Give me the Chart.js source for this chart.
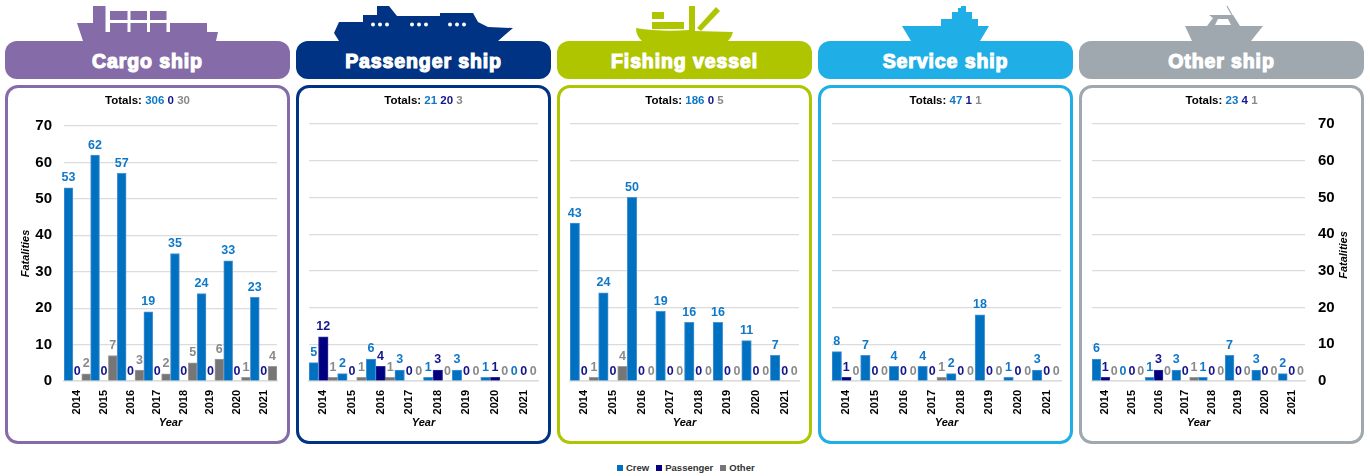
<!DOCTYPE html>
<html>
<head>
<meta charset="utf-8">
<title>Fatalities by ship type</title>
<script src="https://cdn.jsdelivr.net/npm/chart.js@4/dist/chart.umd.min.js"></script>
<style>
html, body { margin: 0; padding: 0; background: #fff; }
body { width: 1370px; height: 476px; position: relative; overflow: hidden; font-family: "Liberation Sans", Arial, sans-serif; }
.head { position: absolute; top: 41px; height: 38px; border-radius: 12px; color: #fff; text-align: center; line-height: 40px; font-size: 19.5px; font-weight: bold; -webkit-text-stroke: 1.2px #fff; letter-spacing: 0.9px; }
.card { position: absolute; top: 85px; height: 353px; border: 3px solid; border-radius: 13px; background: #fff; }
.card canvas { position: absolute; left: 0; top: 0; }
.totals { position: absolute; top: 6px; left: 0; right: 0; text-align: center; font-size: 11.5px; font-weight: bold; line-height: 13px; color: #000; z-index: 2; }
#ships { position: absolute; left: 0; top: 0; }
#legend { position: absolute; left: 617px; top: 462px; font-size: 9.5px; font-weight: bold; line-height: 12px; color: #333; white-space: nowrap; }
#legend i { display: inline-block; width: 6px; height: 6px; margin-right: 3px; }
#legend span { margin-right: 7px; }
</style>
</head>
<body>
<svg id="ships" width="1370" height="45">
  <g fill="#856CA8">
    <path d="M77,23 H93 V6 H105.5 V32 H110 V23 H127.5 V32 H130.5 V23 H147 V32 H150 V23 H166.5 V32 H170 V23 H207 V32 H218 L216,41 H83 Z"/>
    <rect x="110" y="11" width="17.5" height="9"/><rect x="130.5" y="11" width="16.5" height="9"/><rect x="150" y="11" width="16.5" height="9"/>
  </g>
  <g fill="#003383">
    <path d="M334,33 L339,22 H363 V15 H377 V6 H389 L397,16 H440 V13 H473 L478,22 L488,27 L513,28 L498,41 H339 Z"/>
    <g fill="#fff">
      <circle cx="373" cy="24.5" r="2"/><circle cx="380" cy="24.5" r="2"/><circle cx="387" cy="24.5" r="2"/>
      <circle cx="412" cy="24.5" r="2"/><circle cx="419" cy="24.5" r="2"/><circle cx="426" cy="24.5" r="2"/>
      <circle cx="450" cy="24.5" r="2"/><circle cx="457" cy="24.5" r="2"/><circle cx="464" cy="24.5" r="2"/>
    </g>
  </g>
  <g fill="#AFC500">
    <path d="M636,28 Q660,32 689,30 V6 H695 V31 L733,32 Q732,37 728,41 H642 Q636,36 636,28 Z"/>
    <rect x="652" y="12" width="12" height="7"/><rect x="652" y="22" width="32" height="7"/>
    <path d="M697,28 L716,7 L720,11 L701,31 Z"/>
  </g>
  <g fill="#20AEE6">
    <path d="M902,26 H941 V19 H952 V12 H958 V8 H961 V6 H966 V12 H972 V19 H978 V26 H989 L980,41 H911 Z"/>
  </g>
  <g fill="#9FA8AE">
    <path d="M1185,26 H1207 L1213,18 L1209,15 H1233 L1240,26 H1263 L1251,41 H1192 Z"/>
    <path d="M1218,19 L1215,25 H1231 L1228,19 Z" fill="#fff"/>
    <path d="M1227,6 L1238,26" stroke="#9FA8AE" stroke-width="1.2" fill="none"/>
  </g>
</svg>
<div id="root"></div>
<div id="legend"></div>

<script>
var years = ["2014", "2015", "2016", "2017", "2018", "2019", "2020", "2021"];

var cargoCrew = [53, 62, 57, 19, 35, 24, 33, 23];
var cargoPassenger = [0, 0, 0, 0, 0, 0, 0, 0];
var cargoOther = [2, 7, 3, 2, 5, 6, 1, 4];

var passengerCrew = [5, 2, 6, 3, 1, 3, 1, 0];
var passengerPassenger = [12, 0, 4, 0, 3, 0, 1, 0];
var passengerOther = [1, 1, 1, 0, 0, 0, 0, 0];

var fishingCrew = [43, 24, 50, 19, 16, 16, 11, 7];
var fishingPassenger = [0, 0, 0, 0, 0, 0, 0, 0];
var fishingOther = [1, 4, 0, 0, 0, 0, 0, 0];

var serviceCrew = [8, 7, 4, 4, 2, 18, 1, 3];
var servicePassenger = [1, 0, 0, 0, 0, 0, 0, 0];
var serviceOther = [0, 0, 0, 1, 0, 0, 0, 0];

var otherCrew = [6, 0, 1, 3, 1, 7, 3, 2];
var otherPassenger = [1, 0, 3, 0, 0, 0, 0, 0];
var otherOther = [0, 0, 0, 1, 0, 0, 0, 0];

var seriesNames = ["Crew", "Passenger", "Other"];
var barColors = ["#0070C0", "#000080", "#767676"];
var barEdges = ["#4A93D4", "#2E2E96", "#9C9C9C"];
var labelColors = ["#0F78C8", "#14148C", "#8A8A8A"];
var yTicksMax = 70;

var FONT = '"Liberation Sans", Arial, sans-serif';

// plot box given in page pixels, card box too
var panels = [
    { name: "Cargo ship", color: "#856CA8", x: 5, w: 285, left: 64, right: 277, top: 126, axis: "left", crew: cargoCrew, passenger: cargoPassenger, other: cargoOther },
    { name: "Passenger ship", color: "#003383", x: 296, w: 255, left: 309, right: 538, top: 124, axis: "none", crew: passengerCrew, passenger: passengerPassenger, other: passengerOther },
    { name: "Fishing vessel", color: "#AFC500", x: 557, w: 255, left: 570, right: 799, top: 124, axis: "none", crew: fishingCrew, passenger: fishingPassenger, other: fishingOther },
    { name: "Service ship", color: "#20AEE6", x: 818, w: 255, left: 832, right: 1061, top: 124, axis: "none", crew: serviceCrew, passenger: servicePassenger, other: serviceOther },
    { name: "Other ship", color: "#9FA8AE", x: 1079, w: 285, left: 1092, right: 1305, top: 124, axis: "right", crew: otherCrew, passenger: otherPassenger, other: otherOther }
];
var plotBottom = 381;
var cardTop = 88, cardBottom = 441;

function sum(list) {
    return list.reduce(function (a, b) { return a + b; }, 0);
}

// numbers above the bars
var valueLabels = {
    id: "valueLabels",
    afterDatasetsDraw: function (chart) {
        var ctx = chart.ctx;
        ctx.save();
        ctx.font = "bold 12.5px " + FONT;
        ctx.textAlign = "center";
        ctx.textBaseline = "alphabetic";
        chart.data.datasets.forEach(function (ds, i) {
            ctx.fillStyle = labelColors[i];
            chart.getDatasetMeta(i).data.forEach(function (bar, j) {
                ctx.fillText(ds.data[j], bar.x, bar.y - 6.5);
            });
        });
        ctx.restore();
    }
};

// chart.js turns a right hand title downwards, this one reads upwards
var rightTitle = {
    id: "rightTitle",
    afterDraw: function (chart) {
        if (chart.options.scales.y.position !== "right") return;
        var ctx = chart.ctx;
        ctx.save();
        ctx.translate(chart.width - 17, 255 - cardTop);
        ctx.rotate(-Math.PI / 2);
        ctx.font = "italic bold 11px " + FONT;
        ctx.fillStyle = "#000";
        ctx.textAlign = "center";
        ctx.textBaseline = "middle";
        ctx.fillText("Fatalities", 0, 0);
        ctx.restore();
    }
};

var root = document.getElementById("root");

panels.forEach(function (p) {
    var head = document.createElement("div");
    head.className = "head";
    head.style.left = p.x + "px";
    head.style.width = p.w + "px";
    head.style.background = p.color;
    head.textContent = p.name;
    root.appendChild(head);

    var card = document.createElement("div");
    card.className = "card";
    card.style.left = p.x + "px";
    card.style.width = (p.w - 6) + "px";
    card.style.borderColor = p.color;

    var totals = document.createElement("div");
    totals.className = "totals";
    totals.innerHTML = 'Totals: <span style="color:' + labelColors[0] + '">' + sum(p.crew) + '</span> ' +
        '<span style="color:' + labelColors[1] + '">' + sum(p.passenger) + '</span> ' +
        '<span style="color:' + labelColors[2] + '">' + sum(p.other) + '</span>';
    card.appendChild(totals);

    var canvas = document.createElement("canvas");
    var canvasW = p.w - 6, canvasH = cardBottom - cardTop;
    canvas.width = canvasW;
    canvas.height = canvasH;
    canvas.style.width = canvasW + "px";
    canvas.style.height = canvasH + "px";
    card.appendChild(canvas);
    root.appendChild(card);

    var canvasLeft = p.x + 3;
    var leftGap = p.left - canvasLeft;
    var rightGap = canvasLeft + canvasW - p.right;

    new Chart(canvas.getContext("2d"), {
        type: "bar",
        data: {
            labels: years,
            datasets: [
                { label: seriesNames[0], data: p.crew, backgroundColor: barColors[0], borderColor: barEdges[0] },
                { label: seriesNames[1], data: p.passenger, backgroundColor: barColors[1], borderColor: barEdges[1] },
                { label: seriesNames[2], data: p.other, backgroundColor: barColors[2], borderColor: barEdges[2] }
            ]
        },
        options: {
            responsive: false,
            animation: false,
            layout: {
                padding: {
                    top: p.top - cardTop,
                    left: p.axis === "right" ? leftGap : 0,
                    right: p.axis === "right" ? 0 : rightGap,
                    bottom: 0
                }
            },
            plugins: { legend: { display: false }, tooltip: { enabled: false } },
            datasets: { bar: { barPercentage: 1, categoryPercentage: 1, borderWidth: 1, borderSkipped: "bottom" } },
            scales: {
                x: {
                    grid: { display: false },
                    border: { color: "#DCDCDC", width: 1.5 },
                    ticks: {
                        minRotation: 90, maxRotation: 90, autoSkip: false, padding: 1,
                        color: "#000", font: { family: FONT, size: 11, weight: "bold" }
                    },
                    title: {
                        display: true, text: "Year", color: "#000",
                        font: { family: FONT, size: 11, weight: "bold", style: "italic" },
                        padding: { top: 0, bottom: 11 }
                    },
                    afterFit: function (scale) { scale.height = cardBottom - plotBottom; }
                },
                y: {
                    position: p.axis === "right" ? "right" : "left",
                    min: 0,
                    max: yTicksMax,
                    grid: { color: "#DCDCDC", lineWidth: 1.25, drawTicks: false },
                    border: { display: false },
                    ticks: {
                        display: p.axis !== "none", stepSize: 10, padding: p.axis === "right" ? 13 : 12,
                        color: "#000", font: { family: FONT, size: 15, weight: "bold" }
                    },
                    title: {
                        display: p.axis === "left", text: "Fatalities", color: "#000",
                        font: { family: FONT, size: 11, weight: "bold", style: "italic" },
                        padding: { top: 11, bottom: 0 }
                    },
                    afterFit: function (scale) { scale.width = p.axis === "right" ? rightGap : leftGap; }
                }
            }
        },
        plugins: [valueLabels, rightTitle]
    });
});

var legend = document.getElementById("legend");
legend.innerHTML = seriesNames.map(function (n, i) {
    return '<span><i style="background:' + barColors[i] + '"></i>' + n + '</span>';
}).join("");
</script>
</body>
</html>
